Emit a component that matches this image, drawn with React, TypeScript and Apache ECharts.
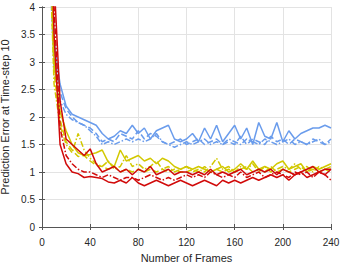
import React, { useEffect, useRef } from "react";
import * as echarts from "echarts";

const frames = [5,10,15,20,25,30,35,40,45,50,55,60,65,70,75,80,85,90,95,100,105,110,115,120,125,130,135,140,145,150,155,160,165,170,175,180,185,190,195,200,205,210,215,220,225,230,235,240];

const blueSolid = [6.5,3.4,2.6,2.2,2.05,2.0,1.95,1.9,1.85,1.7,1.6,1.65,1.75,1.7,1.85,1.7,1.8,1.6,1.75,1.8,1.85,1.6,1.55,1.6,1.7,1.55,1.8,1.6,1.85,1.55,1.7,1.85,1.6,1.8,1.5,1.9,1.65,1.6,1.9,1.55,1.75,1.6,1.7,1.75,1.8,1.8,1.85,1.8];
const blueDashed = [6,3.1,2.45,2.15,2.0,1.9,1.85,1.8,1.7,1.55,1.6,1.55,1.7,1.65,1.6,1.75,1.6,1.7,1.65,1.55,1.5,1.55,1.6,1.5,1.55,1.6,1.5,1.55,1.6,1.5,1.55,1.5,1.65,1.5,1.6,1.55,1.5,1.65,1.55,1.6,1.5,1.6,1.55,1.5,1.6,1.55,1.5,1.6];
const blueDashDot = [5.5,2.9,2.3,2.05,1.95,1.9,1.85,1.75,1.65,1.5,1.55,1.5,1.55,1.6,1.55,1.6,1.55,1.6,1.7,1.55,1.5,1.45,1.5,1.55,1.5,1.55,1.6,1.5,1.55,1.5,1.6,1.55,1.5,1.6,1.55,1.5,1.6,1.55,1.5,1.55,1.6,1.5,1.55,1.5,1.55,1.6,1.5,1.55];

const yellowSolid = [7,3.0,2.1,1.75,1.5,1.35,1.3,1.32,1.35,1.4,1.18,1.1,1.4,1.2,1.25,1.3,1.2,1.25,1.15,1.25,1.2,1.1,1.05,1.1,1.05,1.1,1.05,1.0,1.05,1.1,1.0,1.05,1.15,1.05,1.2,1.05,1.1,1.05,1.15,1.2,1.05,1.1,1.15,1.0,1.1,1.05,1.1,1.15];
const yellowDashed = [6.5,2.8,1.95,1.55,1.4,1.28,1.3,1.2,1.12,1.1,1.05,1.1,1.0,1.05,1.0,1.05,1.0,1.05,1.0,1.05,1.0,1.05,1.0,1.0,1.05,1.0,1.1,1.0,1.05,1.0,1.05,1.0,1.05,1.1,1.0,1.05,1.0,1.1,1.0,1.05,1.0,1.05,1.1,1.0,1.05,1.0,1.05,1.1];
const yellowDashDot = [6,2.6,1.85,1.5,1.35,1.7,1.4,1.25,1.15,1.1,1.2,1.05,1.1,1.3,1.1,1.15,1.05,1.1,1.2,1.05,1.1,1.0,1.05,1.1,1.0,1.05,1.0,1.1,1.25,1.05,1.1,1.0,1.1,1.05,1.15,1.0,1.1,1.0,1.05,1.1,1.05,1.15,1.05,1.1,1.0,1.1,1.05,1.0];

const redSolid = [9,4.5,2.3,1.6,1.5,1.4,1.3,1.42,1.15,1.0,1.05,1.1,1.0,1.05,0.95,1.05,1.0,1.1,0.95,1.0,1.05,0.95,1.0,1.0,0.95,1.0,0.95,1.05,0.95,1.0,0.95,1.0,1.05,0.95,1.0,1.05,1.0,1.05,0.95,1.05,1.0,0.95,1.0,1.05,1.1,1.0,1.05,1.05];
const redDashDot = [8,4.0,1.8,1.3,1.15,1.05,1.0,1.0,0.95,0.9,0.95,0.9,0.85,0.9,0.9,0.85,0.9,0.95,0.9,0.85,0.9,0.85,0.9,0.95,0.9,0.95,0.9,1.0,0.95,0.9,0.95,0.9,1.0,0.9,0.95,1.0,0.9,0.95,1.0,0.95,0.9,1.0,0.95,1.0,0.9,1.0,0.95,0.85];
const redLower = [7.5,3.5,1.5,1.15,1.0,0.97,0.9,0.92,0.9,0.88,0.82,0.8,0.85,0.8,0.9,0.8,0.75,0.8,0.85,0.8,0.75,0.8,0.85,0.8,0.75,0.8,0.85,0.8,0.75,0.85,0.8,0.85,0.8,0.85,0.9,0.85,0.9,0.95,0.9,0.95,0.85,0.95,1.0,0.9,0.95,1.0,0.95,1.05];

const BLUE = "#6a9cec";
const YELLOW = "#d2c800";
const RED = "#d10a0a";
const DASHDOT = [6, 2, 1.5, 2];

export default function App() {
  const ref = useRef<HTMLDivElement>(null);
  useEffect(() => {
    const chart = echarts.init(ref.current!, null, { renderer: "svg" });
    const mk = (d: number[], color: string, type: any) => ({
      type: "line",
      data: frames.map((f, i) => [f, d[i]]),
      showSymbol: false,
      symbol: "none",
      clip: true,
      lineStyle: { color, width: 1.5, type },
      z: 3,
    });
    const font = "Liberation Sans, Arial, sans-serif";
    const axisCommon = {
      axisLine: { show: true, lineStyle: { color: "#555", width: 1 } },
      axisTick: { show: true, inside: true, length: 3, lineStyle: { color: "#555" } },
    };
    chart.setOption({
      animation: false,
      grid: { left: 42, right: 12, top: 7, bottom: 36, containLabel: false, outerBoundsMode: "none" },
      xAxis: [
        {
          type: "value",
          min: 0,
          max: 240,
          interval: 40,
          name: "Number of Frames",
          nameLocation: "middle",
          nameGap: 25,
          nameTextStyle: { color: "#262626", fontSize: 11, fontFamily: font },
          axisLabel: { color: "#262626", fontSize: 10, fontFamily: font, margin: 10 },
          splitLine: { show: true, lineStyle: { color: "#e3e3e3", width: 1 } },
          ...axisCommon,
        },
        {
          type: "value",
          position: "top",
          min: 0,
          max: 240,
          interval: 40,
          axisLabel: { show: false },
          splitLine: { show: false },
          ...axisCommon,
        },
      ],
      yAxis: [
        {
          type: "value",
          min: 0,
          max: 4,
          interval: 0.5,
          name: "Prediction Error at Time-step 10",
          nameLocation: "middle",
          nameGap: 27,
          nameTextStyle: { color: "#262626", fontSize: 11, fontFamily: font },
          axisLabel: { color: "#262626", fontSize: 10, fontFamily: font, margin: 7 },
          splitLine: { show: true, lineStyle: { color: "#e3e3e3", width: 1 } },
          ...axisCommon,
        },
        {
          type: "value",
          position: "right",
          min: 0,
          max: 4,
          interval: 0.5,
          axisLabel: { show: false },
          splitLine: { show: false },
          ...axisCommon,
        },
      ],
      series: [
        mk(blueSolid, BLUE, "solid"),
        mk(blueDashed, BLUE, "dashed"),
        mk(blueDashDot, BLUE, DASHDOT),
        mk(yellowSolid, YELLOW, "solid"),
        mk(yellowDashed, YELLOW, "dashed"),
        mk(yellowDashDot, YELLOW, DASHDOT),
        mk(redSolid, RED, "solid"),
        mk(redDashDot, RED, DASHDOT),
        mk(redLower, RED, "solid"),
      ],
    });
    return () => chart.dispose();
  }, []);
  return <div ref={ref} style={{ width: 343, height: 263, position: "absolute", left: 0, top: 0 }} />;
}
